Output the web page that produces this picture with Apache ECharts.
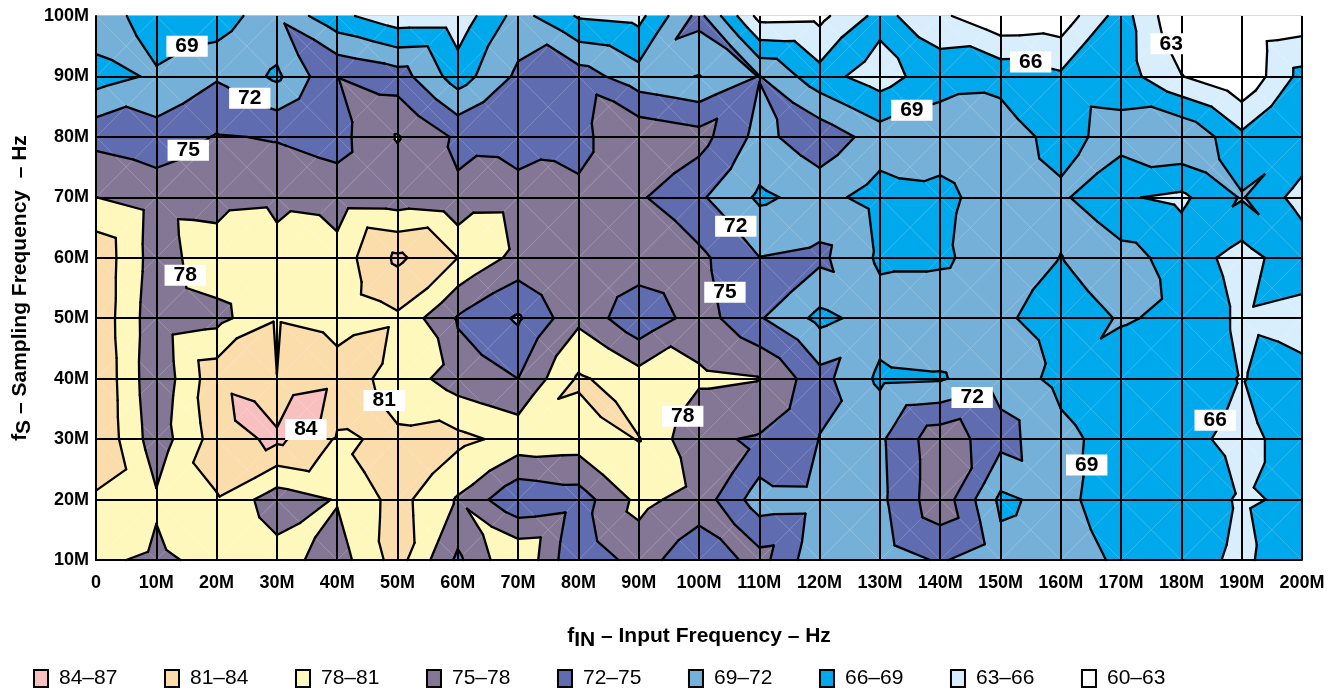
<!DOCTYPE html>
<html>
<head>
<meta charset="utf-8">
<title>SNR contour</title>
<script src="https://cdn.jsdelivr.net/npm/echarts@6/dist/echarts.min.js"></script>
<style>
  html, body { margin: 0; padding: 0; background: #fff; }
  #chart { width: 1336px; height: 691px; }
</style>
</head>
<body>
<div id="chart"></div>
<script>
// input frequency (MHz) of each column, sampling frequency (MHz) of each row
const fIn = [0, 10, 20, 30, 40, 50, 60, 70, 80, 90, 100, 110, 120, 130, 140, 150, 160, 170, 180, 190, 200];
const fS = [100, 90, 80, 70, 60, 50, 40, 30, 20, 10];

// SNR read at the grid crossings, one list per sampling frequency
const snr100 = [71.4, 66.7, 67, 71.5, 66.8, 64.1, 64.1, 70.2, 65.7, 65.1, 73, 62, 62.15, 67, 63.6, 60.5, 61.1, 67.4, 60.2, 60.5, 61];
const snr90 = [67.6, 69.5, 71.7, 68.4, 74.95, 73.5, 67.5, 72.6, 73.5, 70.2, 68.9, 72.1, 67.15, 64.5, 68, 68.2, 66.5, 67.5, 63.1, 60.3, 67];
const snr80 = [74.1, 73.2, 75.2, 74.8, 74, 78.2, 74.5, 74.4, 74.2, 77.4, 76.2, 71, 74.1, 70.5, 70.4, 70.4, 68, 70.2, 71.9, 66.7, 68.4];
const snr70 = [78.02, 76.7, 76.5, 77, 76.3, 76.2, 75.4, 75.5, 75.5, 75.4, 72.5, 68.5, 70, 67.8, 68.2, 70.5, 69.5, 66.3, 65.4, 69.25, 64.7];
const snr60 = [83.3, 76.5, 80, 79.4, 79.3, 84.6, 81, 77, 76.5, 77, 75.7, 72.05, 72.7, 68.5, 68.5, 70.5, 68.96, 70.1, 67.8, 64.7, 68.1];
const snr50 = [83.3, 76, 77, 80.75, 79.5, 80.5, 74.7, 71.6, 77.35, 72.6, 76.5, 72.3, 68.2, 70.3, 71.1, 70, 66.3, 69.4, 68.1, 65.5, 64.6];
const snr40 = [83.8, 75.7, 83, 81.02, 82.7, 79.8, 76.5, 75, 81.4, 79.4, 78.5, 78.1, 73.1, 68.4, 68.7, 71, 68, 66.5, 67, 65.9, 67];
const snr30 = [83.9, 76.3, 82.4, 84.7, 80.7, 81.4, 81.8, 80, 79.6, 81.1, 75.5, 74.7, 71.9, 71.5, 77, 73, 70, 67.4, 67, 65, 67.6];
const snr20 = [80.5, 78.4, 80.8, 76.3, 78.2, 82.1, 77.7, 72.4, 73.5, 78.8, 76.8, 70.4, 70.5, 71.3, 77, 68.35, 70.2, 66.5, 67, 65.8, 66.3];
const snr10 = [78.6, 77.4, 78.9, 79.2, 76.6, 82.3, 74.4, 81, 72, 76.5, 72.6, 76.2, 69.6, 70.5, 72.3, 70.15, 70.5, 68.5, 67, 65.5, 67.8];

// SNR read at the middle of each grid cell
const mid95 = [70.2, 68.9, 71, 73.5, 70, 69, 69, 72.1, 69.1, 71.7, 72.3, 66.8, 67.5, 67, 66, 64.4, 66.9, 64.6, 61, 63.5];
const mid85 = [72, 72.3, 72.6, 73.3, 76, 73.6, 72.8, 73.7, 76, 73.2, 74.2, 72.7, 69, 68.8, 69.7, 68, 69, 69, 66, 66.1];
const mid75 = [75.6, 75.6, 76, 75.5, 76, 76, 75.3, 75.2, 75.8, 75.6, 72.2, 70.7, 70.6, 69.7, 69.9, 69.4, 69.7, 69, 69.8, 68.92];
const mid65 = [79.8, 78.5, 80, 79.2, 81, 81, 80.5, 76, 76, 75.7, 72.4, 70.6, 71, 68.2, 69.7, 69.9, 69.7, 67.9, 68.4, 68.8];
const mid55 = [79.8, 78, 79.1, 79.6, 81.4, 81, 75.7, 76, 76, 75.5, 74, 72.4, 71.2, 69.6, 70, 69.2, 69.3, 69.5, 66.8, 66.8];
const mid45 = [79.7, 79.7, 83, 82.7, 82.2, 79.7, 74.6, 76.8, 78, 78.1, 76.6, 73.5, 71.5, 70, 70.2, 70, 68.8, 67.5, 66.8, 66.4];
const mid35 = [79.9, 79.8, 85, 86.5, 81.6, 80.5, 78.3, 80.8, 81.5, 79, 77, 75, 71.6, 72.5, 74, 71.4, 67.9, 67, 66.6, 66.9];
const mid25 = [81, 80.6, 82.8, 81.2, 81.3, 81.6, 78.3, 76.6, 79, 79.6, 75.6, 74, 71, 74, 75.1, 71.6, 68.6, 67, 66.8, 66.3];
const mid15 = [79.6, 79.2, 79.2, 78.5, 80.2, 80, 78.7, 77, 76.8, 76.2, 76, 73.7, 70.5, 73.6, 73.7, 69.6, 69, 67, 66.5, 66.5];

const bandNames = ['84–87', '81–84', '78–81', '75–78', '72–75', '69–72', '66–69', '63–66', '60–63'];
const bandLows = [84, 81, 78, 75, 72, 69, 66, 63, 60];
const bandColors = ['#f9c0c0', '#fbdcab', '#fff8bc', '#847795', '#5f6cb0', '#74b0d8', '#00a8ec', '#d9eefc', '#ffffff'];
const contourLevels = [63, 66, 69, 72, 75, 78, 81, 84];

// contour labels: fIN, fS, level
const contourLabels = [
    [15.1, 95, '69'], [25.5, 86.4, '72'], [15.3, 77.8, '75'], [14.8, 57.1, '78'],
    [34.8, 31.6, '84'], [47.8, 36.4, '81'], [97.3, 33.8, '78'], [104.3, 54.3, '75'],
    [106.1, 65.2, '72'], [135.3, 84.4, '69'], [155, 92.4, '66'], [178.3, 95.4, '63'],
    [145.3, 36.9, '72'], [185.6, 33.1, '66'], [164.3, 25.7, '69']
];

const corners = [snr100, snr90, snr80, snr70, snr60, snr50, snr40, snr30, snr20, snr10];
const mids = [mid95, mid85, mid75, mid65, mid55, mid45, mid35, mid25, mid15];

// one data item per grid cell: [column, row]
const cellIndex = [];
mids.forEach((row, r) => row.forEach((v, c) => cellIndex.push([c, r])));

// each cell is cut into four triangles that meet in its middle
function cellTriangles(c, r) {
    const p = (i, j) => ({ x: fIn[i], y: fS[j], v: corners[j][i] });
    const a = p(c, r), b = p(c + 1, r), d = p(c + 1, r + 1), e = p(c, r + 1);
    const m = { x: (a.x + b.x) / 2, y: (a.y + e.y) / 2, v: mids[r][c] };
    return [[a, b, m], [b, d, m], [d, e, m], [e, a, m]];
}

function cross(p, q, t) {
    const k = (t - p.v) / (q.v - p.v);
    return { x: p.x + (q.x - p.x) * k, y: p.y + (q.y - p.y) * k, v: t };
}

// keep the part of a polygon on one side of level t
function clipLevel(poly, t, above) {
    const out = [];
    poly.forEach((p, i) => {
        const q = poly[(i + 1) % poly.length];
        const pIn = above ? p.v >= t : p.v < t;
        const qIn = above ? q.v >= t : q.v < t;
        if (pIn) out.push(p);
        if (pIn !== qIn) out.push(cross(p, q, t));
    });
    return out;
}

function bandItem(bandIdx) {
    const lo = bandLows[bandIdx], hi = lo + 3;
    return function (params, api) {
        const children = [];
        cellTriangles(api.value(0), api.value(1)).forEach(tri => {
            let poly = clipLevel(tri, lo, true);
            if (poly.length) poly = clipLevel(poly, hi, false);
            if (poly.length < 3) return;
            children.push({
                type: 'polygon',
                shape: { points: poly.map(p => api.coord([p.x, p.y])) },
                style: { fill: bandColors[bandIdx], stroke: bandColors[bandIdx], lineWidth: 0.6 }
            });
        });
        return { type: 'group', children: children };
    };
}

function hairlineItem(params, api) {
    const children = [];
    cellTriangles(api.value(0), api.value(1)).forEach(tri => {
        const s = api.coord([tri[0].x, tri[0].y]), t = api.coord([tri[2].x, tri[2].y]);
        children.push({
            type: 'line',
            shape: { x1: s[0], y1: s[1], x2: t[0], y2: t[1] },
            style: { stroke: 'rgba(255,255,255,0.25)', lineWidth: 0.6 }
        });
    });
    return { type: 'group', children: children };
}

function contourItem(params, api) {
    const children = [];
    cellTriangles(api.value(0), api.value(1)).forEach(tri => {
        contourLevels.forEach(t => {
            const hits = [];
            tri.forEach((p, i) => {
                const q = tri[(i + 1) % 3];
                if ((p.v >= t) !== (q.v >= t)) hits.push(cross(p, q, t));
            });
            if (hits.length !== 2) return;
            const s = api.coord([hits[0].x, hits[0].y]), e = api.coord([hits[1].x, hits[1].y]);
            children.push({
                type: 'line',
                shape: { x1: s[0], y1: s[1], x2: e[0], y2: e[1] },
                style: { stroke: '#000', lineWidth: 2.3, lineCap: 'round' }
            });
        });
    });
    return { type: 'group', children: children };
}

const tickFont = { fontFamily: 'Liberation Sans', fontWeight: 'bold', fontSize: 18, color: '#000' };
const titleFont = { fontFamily: 'Liberation Sans', fontWeight: 'bold', fontSize: 21, color: '#000' };
const subFont = Object.assign({}, titleFont, { verticalAlign: 'bottom', padding: [8, 0, 0, 0] });
const tickText = v => (v === 0 ? '0' : v + 'M');

const bandSeries = bandNames.map((name, i) => ({
    name: name,
    type: 'custom',
    renderItem: bandItem(i),
    data: cellIndex,
    z: 2,
    silent: true,
    itemStyle: { color: bandColors[i] }
}));

const option = {
    animation: false,
    backgroundColor: '#fff',
    grid: { left: 96, right: 34, top: 16, bottom: 131, outerBoundsMode: 'none', show: true, borderColor: '#999', borderWidth: 1 },
    legend: {
        data: bandNames,
        left: 33,
        top: 668,
        padding: 0,
        itemWidth: 14,
        itemHeight: 17,
        itemGap: 46.6,
        selectedMode: false,
        itemStyle: { borderColor: '#000', borderWidth: 2 },
        icon: 'rect',
        textStyle: { fontFamily: 'Liberation Sans', fontSize: 21, color: '#000', padding: [0, 0, 0, 6] }
    },
    xAxis: {
        type: 'value', min: 0, max: 200, interval: 10, z: 5,
        name: '{t|f}{s|IN}{t| – Input Frequency – Hz}',
        nameLocation: 'middle',
        nameGap: 62,
        nameMoveOverlap: false,
        nameTextStyle: { rich: { t: titleFont, s: subFont } },
        axisLine: { show: true, lineStyle: { color: '#000', width: 2 } },
        axisTick: { show: false },
        splitLine: { show: true, lineStyle: { color: '#000', width: 2 } },
        axisLabel: Object.assign({ formatter: tickText, margin: 14 }, tickFont)
    },
    yAxis: {
        type: 'value', min: 10, max: 100, interval: 10, z: 5,
        name: '{t|f}{s|S}{t| – Sampling Frequency  – Hz}',
        nameLocation: 'middle',
        nameGap: 61,
        nameRotate: 90,
        nameMoveOverlap: false,
        nameTextStyle: { rich: { t: titleFont, s: subFont } },
        axisLine: { show: true, lineStyle: { color: '#000', width: 2 } },
        axisTick: { show: false },
        splitLine: { show: true, showMaxLine: false, lineStyle: { color: '#000', width: 2 } },
        axisLabel: Object.assign({ formatter: tickText, margin: 7 }, tickFont)
    },
    series: bandSeries.concat([
        { type: 'custom', renderItem: hairlineItem, data: cellIndex, z: 3, silent: true },
        { type: 'custom', renderItem: contourItem, data: cellIndex, z: 4, silent: true },
        {
            type: 'scatter',
            data: contourLabels,
            symbolSize: 0,
            z: 10,
            silent: true,
            itemStyle: { opacity: 1 },
            label: {
                show: true,
                position: 'inside',
                opacity: 1,
                formatter: p => p.value[2],
                fontFamily: 'Liberation Sans',
                fontWeight: 'bold',
                fontSize: 21,
                lineHeight: 21,
                color: '#000',
                backgroundColor: '#fff',
                padding: [0, 9]
            }
        }
    ])
};

const chart = echarts.init(document.getElementById('chart'));
chart.setOption(option);
window.addEventListener('resize', function () { chart.resize(); });
</script>
</body>
</html>
